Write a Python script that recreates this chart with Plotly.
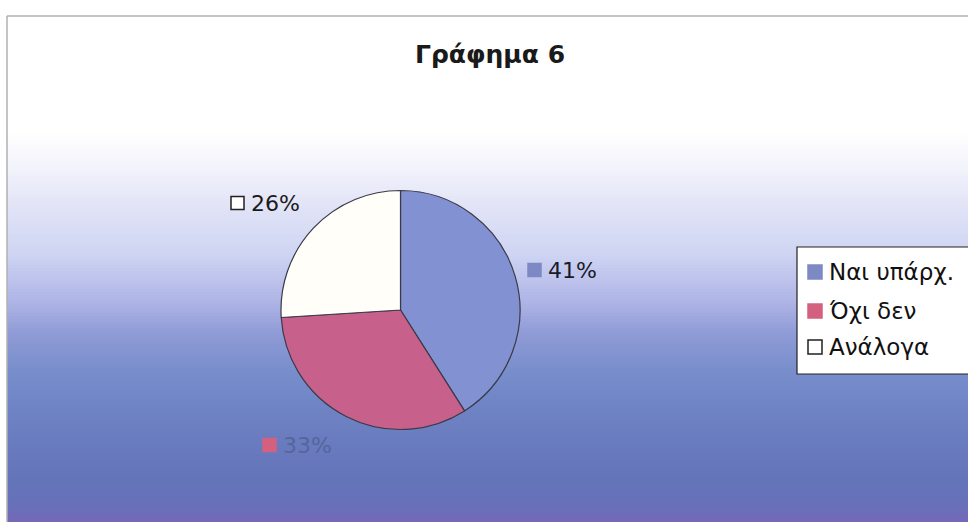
import plotly.graph_objects as go

# ---- data ----
categories = ["Ναι υπάρχ.", "Όχι δεν", "Ανάλογα"]
values = [41, 33, 26]
label_texts = ["41%", "33%", "26%"]
title_text = "Γράφημα 6"

slice_colors = ["#8291d2", "#c8608c", "#fffef8"]
key_colors = ["#7d89c4", "#d3607f", "#ffffff"]
label_font_colors = ["#1a1a2a", "#56659c", "#1a1a1a"]

W, H = 968, 525

def px(x):
    return x / W

def py(y):
    return 1 - y / H

fig = go.Figure()

fig.add_trace(go.Pie(
    labels=categories,
    values=values,
    sort=False,
    direction="clockwise",
    rotation=0,
    marker=dict(colors=slice_colors, line=dict(color="#3a3a48", width=1.2)),
    textinfo="none",
    hoverinfo="label+percent",
    showlegend=False,
    domain=dict(x=[px(281), px(520)], y=[py(430), py(190)]),
))

shapes = []

# ---- background gradient (styling) ----
stops = [
    (16, (255, 255, 255)),
    (130, (255, 255, 255)),
    (165, (244, 244, 252)),
    (205, (226, 228, 247)),
    (255, (206, 212, 242)),
    (300, (176, 182, 230)),
    (335, (142, 154, 214)),
    (370, (120, 142, 204)),
    (420, (108, 128, 194)),
    (480, (100, 116, 184)),
    (505, (104, 112, 186)),
    (522, (116, 104, 184)),
]

def col_at(y):
    for (y0, c0), (y1, c1) in zip(stops[:-1], stops[1:]):
        if y0 <= y <= y1:
            t = (y - y0) / (y1 - y0) if y1 > y0 else 0
            return tuple(round(a + (b - a) * t) for a, b in zip(c0, c1))
    return stops[-1][1]

band = 3
y = 16
while y < 522:
    c = col_at(y + band / 2)
    shapes.append(dict(type="rect", xref="paper", yref="paper",
                       x0=px(7), x1=1.0, y0=py(min(y + band + 0.5, 522)), y1=py(y),
                       fillcolor="rgb(%d,%d,%d)" % c, line=dict(width=0), layer="below"))
    y += band

# frame lines
shapes.append(dict(type="line", xref="paper", yref="paper", x0=px(7), x1=1.0, y0=py(16), y1=py(16),
                   line=dict(color="#b0b0b0", width=1.5)))
shapes.append(dict(type="line", xref="paper", yref="paper", x0=px(7), x1=px(7), y0=py(16), y1=py(522),
                   line=dict(color="#b0b0b0", width=1.5)))

annotations = []

# ---- title ----
annotations.append(dict(text="<b>%s</b>" % title_text, xref="paper", yref="paper",
                        x=px(490), y=py(54), xanchor="center", yanchor="middle",
                        showarrow=False, font=dict(family="DejaVu Sans", size=25, color="#1a1a1a")))

# ---- data labels with key squares ----
label_pos = [(528, 270), (263, 445), (231, 203)]  # key square left edge, center y
for i, (lx, ly) in enumerate(label_pos):
    shapes.append(dict(type="rect", xref="paper", yref="paper",
                       x0=px(lx), x1=px(lx + 13), y0=py(ly + 6.5), y1=py(ly - 6.5),
                       fillcolor=key_colors[i], line=dict(color="#202020" if i == 2 else key_colors[i], width=1.5)))
    annotations.append(dict(text=label_texts[i], xref="paper", yref="paper",
                            x=px(lx + 18), y=py(ly), xanchor="left", yanchor="middle",
                            showarrow=False,
                            font=dict(family="DejaVu Sans", size=22, color=label_font_colors[i])))

# ---- legend (manual) ----
shapes.append(dict(type="rect", xref="paper", yref="paper",
                   x0=px(797), x1=px(975), y0=py(374), y1=py(247),
                   fillcolor="#ffffff", line=dict(color="#222222", width=1.2)))
leg_y = [272, 311, 347]
for i, cat in enumerate(categories):
    shapes.append(dict(type="rect", xref="paper", yref="paper",
                       x0=px(808), x1=px(822), y0=py(leg_y[i] + 7), y1=py(leg_y[i] - 7),
                       fillcolor=key_colors[i], line=dict(color="#202020" if i == 2 else key_colors[i], width=1.5)))
    annotations.append(dict(text=cat, xref="paper", yref="paper",
                            x=px(827), y=py(leg_y[i]), xanchor="left", yanchor="middle",
                            showarrow=False,
                            font=dict(family="DejaVu Sans", size=23, color="#111111")))

fig.update_layout(
    width=W, height=H,
    margin=dict(l=0, r=0, t=0, b=0),
    paper_bgcolor="#ffffff",
    plot_bgcolor="#ffffff",
    shapes=shapes,
    annotations=annotations,
    showlegend=False,
)

fig.write_html("out.html",
               config={"displayModeBar": False},
               post_script="document.body.style.margin='0px';document.body.style.overflow='hidden';")
